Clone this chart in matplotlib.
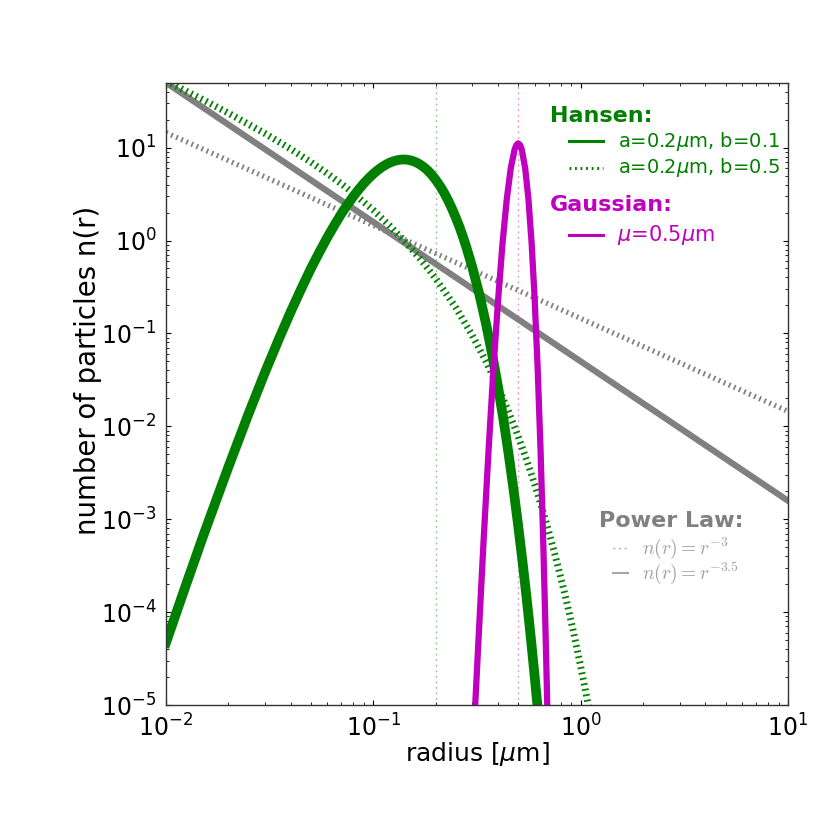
import numpy as np
import matplotlib
matplotlib.use("Agg")
import matplotlib.pyplot as plt

plt.rcParams['lines.scale_dashes'] = False
plt.rcParams['axes.unicode_minus'] = False
plt.rcParams['xtick.direction'] = 'in'
plt.rcParams['ytick.direction'] = 'in'
plt.rcParams['xtick.top'] = True
plt.rcParams['ytick.right'] = True

# ----------------------------------
# Data
# ----------------------------------
# Hansen, a=0.2um, b=0.1
r_hansen1 = [0.01, 0.0125, 0.015, 0.0175, 0.02, 0.025, 0.03, 0.035, 0.04, 0.045,
             0.05, 0.055, 0.06, 0.065, 0.07, 0.075, 0.08, 0.085, 0.09, 0.095,
             0.10, 0.105, 0.11, 0.115, 0.12, 0.125, 0.13, 0.135, 0.14, 0.145,
             0.15, 0.155, 0.16, 0.165, 0.17, 0.175, 0.18, 0.185, 0.19, 0.20,
             0.21, 0.22, 0.23, 0.24, 0.25, 0.26, 0.27, 0.28, 0.30, 0.325, 0.35,
             0.375, 0.40, 0.425, 0.45, 0.475, 0.50, 0.525, 0.55, 0.575, 0.60,
             0.625, 0.65]
n_hansen1 = [4.7e-5, 1.98e-4, 6.3e-4, 1.62e-3, 3.65e-3, 0.0136, 0.038, 0.0867,
             0.172, 0.305, 0.50, 0.754, 1.08, 1.47, 1.93, 2.43, 2.98, 3.54, 4.12,
             4.68, 5.22, 5.72, 6.17, 6.56, 6.88, 7.13, 7.31, 7.42, 7.45, 7.42,
             7.32, 7.17, 6.98, 6.74, 6.47, 6.17, 5.86, 5.52, 5.19, 4.50, 3.84,
             3.23, 2.67, 2.18, 1.76, 1.41, 1.11, 0.869, 0.518, 0.260, 0.125,
             0.0581, 0.0262, 0.0115, 4.9e-3, 2.05e-3, 8.4e-4, 3.39e-4, 1.35e-4,
             5.26e-5, 2.03e-5, 7.74e-6, 2.9e-6]

# Hansen, a=0.2um, b=0.5
r_hansen2 = [0.01, 0.015, 0.02, 0.03, 0.04, 0.05, 0.06, 0.07, 0.08, 0.10, 0.12,
             0.14, 0.17, 0.20, 0.25, 0.30, 0.35, 0.40, 0.45, 0.50, 0.55, 0.60,
             0.65, 0.70, 0.75, 0.80, 0.85, 0.90, 0.95, 1.0, 1.05, 1.1]
n_hansen2 = [52.0, 33.0, 23.5, 14.2, 9.64, 6.97, 5.26, 4.08, 3.23, 2.12, 1.44,
             1.01, 0.618, 0.389, 0.189, 0.0954, 0.0496, 0.0263, 0.0142, 7.75e-3,
             4.27e-3, 2.38e-3, 1.33e-3, 7.5e-4, 4.24e-4, 2.4e-4, 1.38e-4, 7.9e-5,
             4.53e-5, 2.6e-5, 1.51e-5, 8.7e-6]

# Gaussian, mu=0.5um
r_gauss = [0.30, 0.31, 0.32, 0.34, 0.36, 0.38, 0.40, 0.42, 0.44, 0.46, 0.48, 0.49,
           0.50, 0.51, 0.52, 0.54, 0.56, 0.58, 0.60, 0.62, 0.64, 0.66, 0.68,
           0.69, 0.70]
n_gauss = [2.2e-6, 9.9e-6, 4.1e-5, 5.7e-4, 5.8e-3, 0.043, 0.234, 0.94, 2.77, 5.99,
           9.51, 10.7, 11.1, 10.7, 9.51, 5.99, 2.77, 0.94, 0.234, 0.043, 5.8e-3,
           5.7e-4, 4.1e-5, 9.9e-6, 2.2e-6]

# power laws (straight lines on log-log)
r_power = [0.01, 10.0]
n_power3 = [14.5, 0.0145]
n_power35 = [50.0, 0.00158]

a_hansen = 0.2
mu_gauss = 0.5

# ----------------------------------
# Plot
# ----------------------------------
fig = plt.figure(figsize=(8.3, 8.3), dpi=100)
ax = fig.add_axes([0.2, 0.1506, 0.7494, 0.7498])

dots = (0, (1.3, 2.7))
ax.axvline(a_hansen, color='green', alpha=0.45, lw=1, ls=dots)
ax.axvline(mu_gauss, color='m', alpha=0.45, lw=1, ls=dots)

ax.plot(r_power, n_power3, color='gray', lw=3.8, ls=dots)
ax.plot(r_power, n_power35, color='gray', lw=4.5)
ax.plot(r_hansen2, n_hansen2, color='green', lw=5, ls=dots)
ax.plot(r_hansen1, n_hansen1, color='green', lw=7)
ax.plot(r_gauss, n_gauss, color='m', lw=4.5)

ax.set_xscale('log')
ax.set_yscale('log')
ax.set_xlim(1e-2, 1e1)
ax.set_ylim(1e-5, 50)

ax.tick_params(which='major', length=3.5, labelsize=17, pad=7)
ax.tick_params(which='minor', length=2)
for s in ax.spines.values():
    s.set_linewidth(1.0)
    s.set_color('#333333')

ax.set_xlabel(r'radius [$\mu$m]', fontsize=18)
ax.set_ylabel('number of particles n(r)', fontsize=19.8)
ax.xaxis.set_label_coords(0.5, -0.056)
ax.yaxis.set_label_coords(-0.103, 0.538)

# hand-made legend blocks
tr = ax.transAxes
ax.text(0.617, 0.947, 'Hansen:', transform=tr, color='green', fontsize=16,
        fontweight='bold', va='center')
ax.plot([0.648, 0.703], [0.906, 0.906], transform=tr, color='green', lw=2.2)
ax.text(0.727, 0.906, r'a=0.2$\mu$m, b=0.1', transform=tr, color='green',
        fontsize=14, va='center')
ax.plot([0.648, 0.703], [0.863, 0.863], transform=tr, color='green', lw=2.2,
        ls=dots)
ax.text(0.727, 0.863, r'a=0.2$\mu$m, b=0.5', transform=tr, color='green',
        fontsize=14, va='center')

ax.text(0.617, 0.803, 'Gaussian:', transform=tr, color='m', fontsize=16,
        fontweight='bold', va='center')
ax.plot([0.648, 0.703], [0.755, 0.755], transform=tr, color='m', lw=2.2)
ax.text(0.725, 0.755, r'$\mu$=0.5$\mu$m', transform=tr, color='m',
        fontsize=15, va='center')

ax.text(0.696, 0.295, 'Power Law:', transform=tr, color='gray', fontsize=16,
        fontweight='bold', va='center')
ax.plot([0.719, 0.743], [0.252, 0.252], transform=tr, color='gray', alpha=0.7,
        lw=1, ls=dots)
ax.text(0.765, 0.252, r'$n(r)=r^{-3}$', transform=tr, color='gray', alpha=0.75,
        fontsize=14, va='center', math_fontfamily='cm')
ax.plot([0.719, 0.743], [0.212, 0.212], transform=tr, color='gray', alpha=0.7, lw=1.5)
ax.text(0.765, 0.212, r'$n(r)=r^{-3.5}$', transform=tr, color='gray', alpha=0.75,
        fontsize=14, va='center', math_fontfamily='cm')

fig.savefig('out.png', dpi=100)
